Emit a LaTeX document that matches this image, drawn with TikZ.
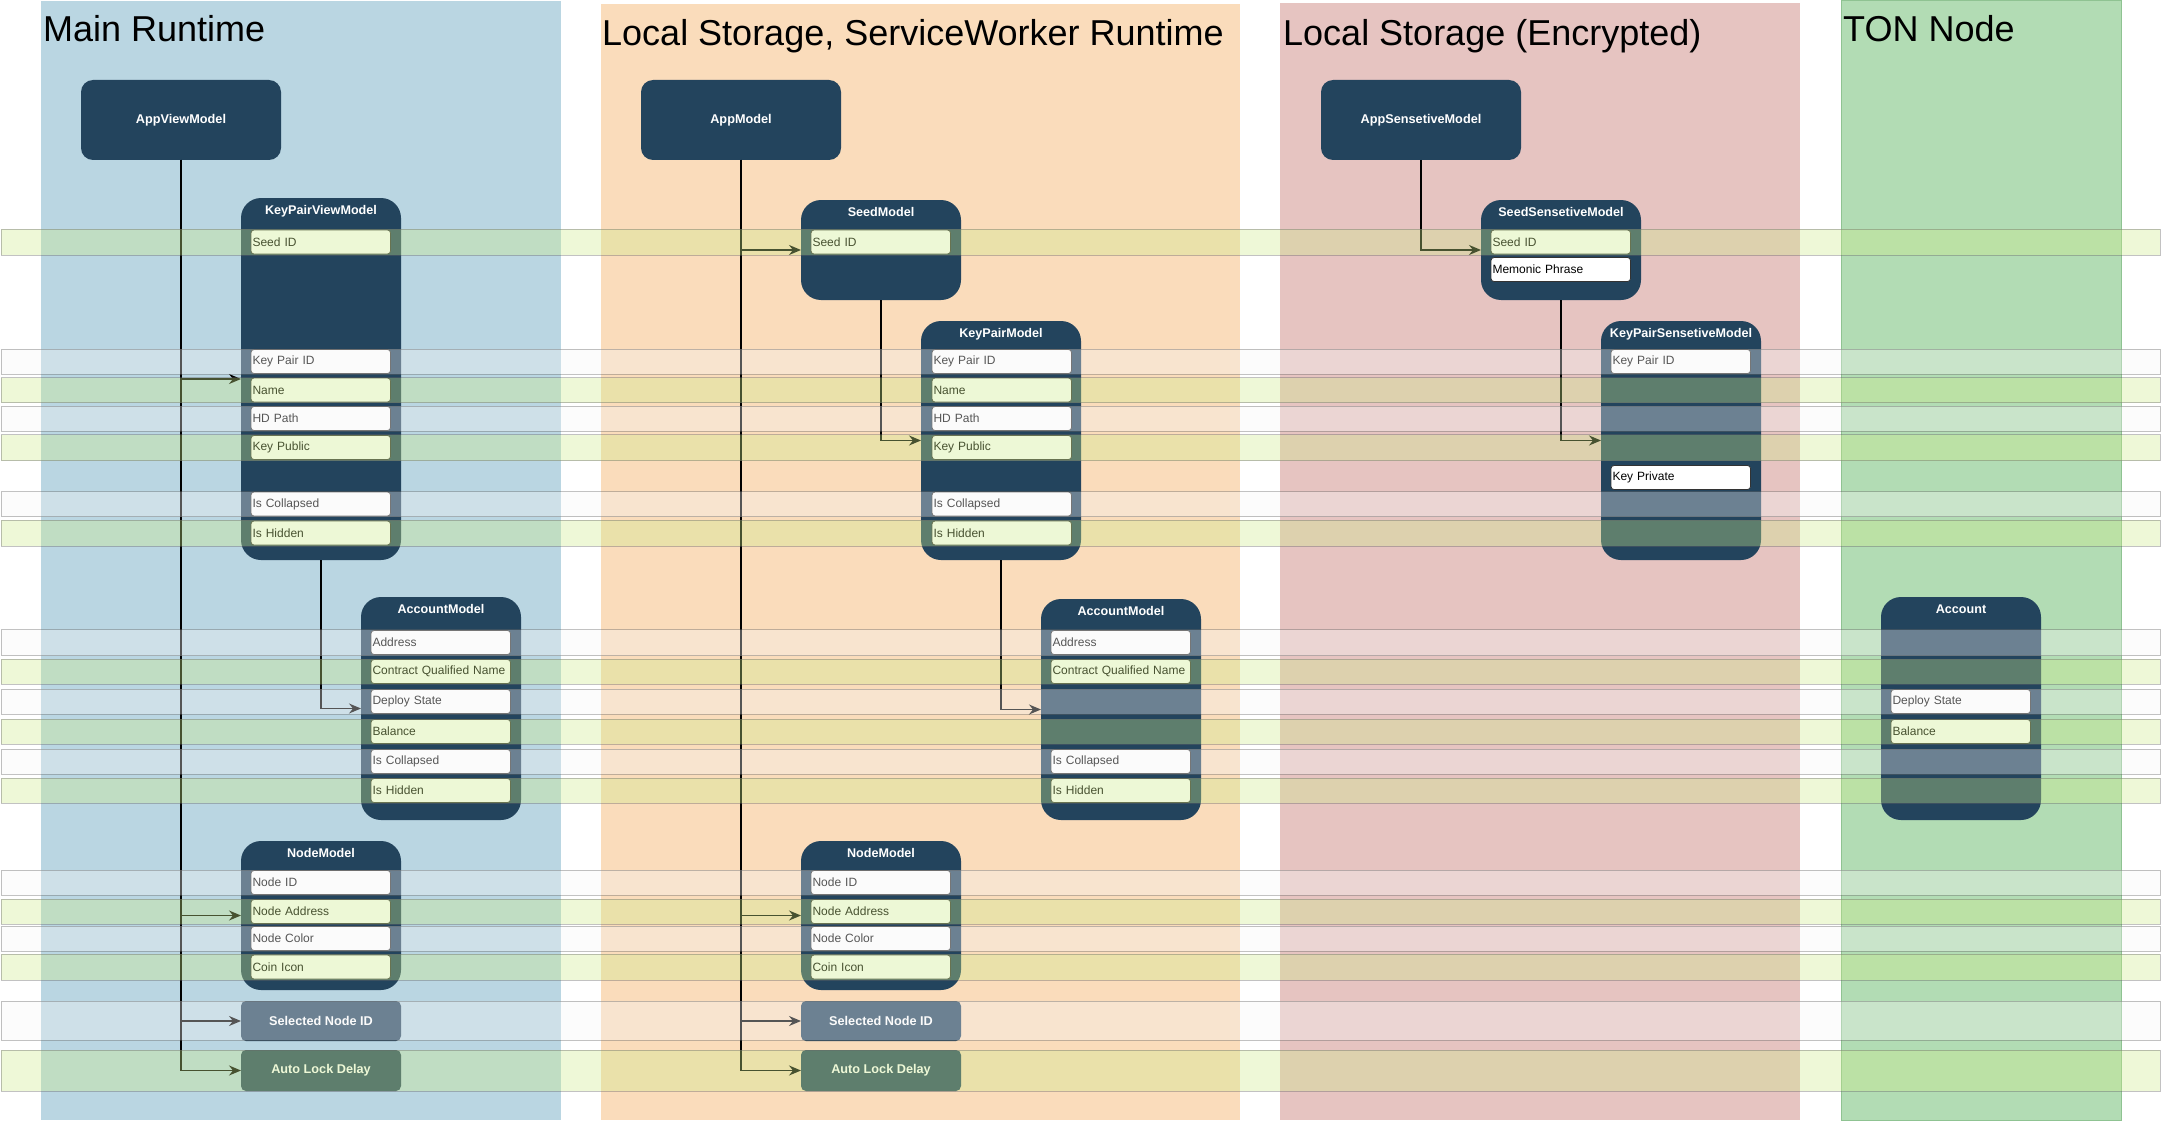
\documentclass[tikz,border=0pt]{standalone}
\usepackage{fontspec}
\setmainfont{Liberation Sans}
\usetikzlibrary{arrows.meta}

\definecolor{modelfill}{HTML}{23445D}
\definecolor{mainlane}{HTML}{BAD6E2}
\definecolor{locallane}{HTML}{FADCBB}
\definecolor{securelane}{HTML}{E6C4C1}
\definecolor{tonlane}{HTML}{B2DCB4}
\definecolor{tonedge}{HTML}{8FC392}
\definecolor{rowgreenfill}{HTML}{CDEB8B}
\definecolor{rowwhitefill}{HTML}{F5F5F5}
\definecolor{rowedge}{HTML}{666666}

\tikzset{
  lanetitle/.style={anchor=base west, inner sep=0pt, font=\fontsize{36}{43}\selectfont},
  appbox/.style={fill=modelfill, rounded corners=12pt, minimum width=200pt, minimum height=80pt,
    anchor=north west, inner sep=0pt, outer sep=0pt, text=white, font=\bfseries\fontsize{12.7}{15}\selectfont},
  modelbox/.style={fill=modelfill, rounded corners=20pt, minimum width=160pt,
    anchor=north west, inner sep=0pt, outer sep=0pt},
  boxtitle/.style={anchor=mid, yshift=-13.5pt, inner sep=0pt, text=white,
    font=\bfseries\fontsize{12.6}{15}\selectfont},
  valuebox/.style={fill=modelfill, rounded corners=5pt, minimum width=160pt,
    anchor=north west, inner sep=0pt, outer sep=0pt, text=white, font=\bfseries\fontsize{12.7}{15}\selectfont},
  field/.style={draw=black!80, line width=0.8pt, fill=white, rounded corners=3pt, anchor=west,
    minimum height=24pt, text width=136.5pt, inner xsep=1.5pt, inner ysep=0pt, outer sep=0pt,
    align=left, font=\fontsize{12}{14}\selectfont},
  link/.style={line width=1.5pt, -{Stealth[length=12pt,width=10pt,inset=4pt]}},
  rowgreen/.style={fill=rowgreenfill, fill opacity=0.35, draw=rowedge, draw opacity=0.4, line width=1pt},
  rowwhite/.style={fill=rowwhitefill, fill opacity=0.35, draw=rowedge, draw opacity=0.4, line width=1pt}
}

\begin{document}
\begin{tikzpicture}[x=1pt,y=-1pt]
  \useasboundingbox (0,0) rectangle (2161,1121);

  % lanes
  \fill[mainlane] (41,1) rectangle (561,1120);
  \fill[locallane] (601,4) rectangle (1240,1120);
  \fill[securelane] (1280,3) rectangle (1800,1120);
  \filldraw[fill=tonlane, draw=tonedge] (1841,0.5) rectangle (2121,1120);
  \node[lanetitle] (mainttl) at (43,42) {Main Runtime};
  \node[lanetitle] (localttl) at (602,46) {Local Storage, ServiceWorker Runtime};
  \node[lanetitle] (securettl) at (1283,46) {Local Storage (Encrypted)};
  \node[lanetitle] (tonttl) at (1843,42) {TON Node};

  % main runtime
  \node[appbox] (avm) at (81,80) {AppViewModel};
  \node[modelbox, minimum height=362pt, label={[boxtitle]north:KeyPairViewModel}] (kpvm) at (241,198) {};
  \node[modelbox, minimum height=223pt, label={[boxtitle]north:AccountModel}] (accvm) at (361,597) {};
  \node[modelbox, minimum height=149pt, label={[boxtitle]north:NodeModel}] (nodevm) at (241,841) {};
  \node[valuebox, minimum height=40pt] (selvm) at (241,1001) {Selected Node ID};
  \node[valuebox, minimum height=41pt] (lockvm) at (241,1050) {Auto Lock Delay};
  \foreach \yc/\txt [count=\i] in {242/Seed ID, 361.5/Key Pair ID, 390/Name, 418.5/HD Path,
      447.5/Key Public, 504/Is Collapsed, 533/Is Hidden}
    \node[field] (kpvmf\i) at (251,\yc) {\txt};
  \foreach \yc/\txt [count=\i] in {642.5/Address, 671.5/Contract Qualified Name, 701.5/Deploy State,
      731.5/Balance, 761.5/Is Collapsed, 790.5/Is Hidden}
    \node[field] (accvmf\i) at (371,\yc) {\txt};
  \foreach \yc/\txt [count=\i] in {882.5/Node ID, 911.5/Node Address, 938.5/Node Color, 967/Coin Icon}
    \node[field] (nodevmf\i) at (251,\yc) {\txt};

  % service worker runtime
  \node[appbox] (am) at (641,80) {AppModel};
  \node[modelbox, minimum height=100pt, label={[boxtitle]north:SeedModel}] (seedm) at (801,200) {};
  \node[modelbox, minimum height=239pt, label={[boxtitle]north:KeyPairModel}] (kpm) at (921,321) {};
  \node[modelbox, minimum height=221pt, label={[boxtitle]north:AccountModel}] (accm) at (1041,599) {};
  \node[modelbox, minimum height=149pt, label={[boxtitle]north:NodeModel}] (nodem) at (801,841) {};
  \node[valuebox, minimum height=40pt] (selm) at (801,1001) {Selected Node ID};
  \node[valuebox, minimum height=41pt] (lockm) at (801,1050) {Auto Lock Delay};
  \node[field] (seedmf1) at (811,242) {Seed ID};
  \foreach \yc/\txt [count=\i] in {361.5/Key Pair ID, 390/Name, 418.5/HD Path,
      447.5/Key Public, 504/Is Collapsed, 533/Is Hidden}
    \node[field] (kpmf\i) at (932,\yc) {\txt};
  \foreach \yc/\txt [count=\i] in {642.5/Address, 671.5/Contract Qualified Name,
      761.5/Is Collapsed, 790.5/Is Hidden}
    \node[field] (accmf\i) at (1051,\yc) {\txt};
  \foreach \yc/\txt [count=\i] in {882.5/Node ID, 911.5/Node Address, 938.5/Node Color, 967/Coin Icon}
    \node[field] (nodemf\i) at (811,\yc) {\txt};

  % encrypted storage
  \node[appbox] (asm) at (1321,80) {AppSensetiveModel};
  \node[modelbox, minimum height=100pt, label={[boxtitle]north:SeedSensetiveModel}] (seedsm) at (1481,200) {};
  \node[modelbox, minimum height=239pt, label={[boxtitle]north:KeyPairSensetiveModel}] (kpsm) at (1601,321) {};
  \node[field] (seedsmf1) at (1491,242) {Seed ID};
  \node[field] (seedsmf2) at (1491,269.5) {Memonic Phrase};
  \node[field] (kpsmf1) at (1611,361.5) {Key Pair ID};
  \node[field] (kpsmf2) at (1611,477.5) {Key Private};

  % ton node
  \node[modelbox, minimum height=223pt, label={[boxtitle]north:Account}] (acc) at (1881,597) {};
  \node[field] (accf1) at (1891,701.5) {Deploy State};
  \node[field] (accf2) at (1891,731.5) {Balance};

  % links
  \draw[link] (avm.south) |- (kpvm.west);
  \draw[link] (avm.south) |- (nodevm.west);
  \draw[link] (avm.south) |- (selvm.west);
  \draw[link] (avm.south) |- (lockvm.west);
  \draw[link] (kpvm.south) |- (accvm.west);
  \draw[link] (am.south) |- (seedm.west);
  \draw[link] (am.south) |- (nodem.west);
  \draw[link] (am.south) |- (selm.west);
  \draw[link] (am.south) |- (lockm.west);
  \draw[link] (seedm.south) |- (kpm.west);
  \draw[link] (kpm.south) |- (accm.west);
  \draw[link] (asm.south) |- (seedsm.west);
  \draw[link] (seedsm.south) |- (kpsm.west);

  % rows across all lanes
  \foreach \yc/\h/\kind in {242/26/rowgreen, 361.5/25/rowwhite, 390/25/rowgreen, 418.5/25/rowwhite,
      447.5/26/rowgreen, 504/25/rowwhite, 533/26/rowgreen, 642.5/26/rowwhite, 671.5/25/rowgreen,
      701.5/25/rowwhite, 731.5/25/rowgreen, 761.5/25/rowwhite, 790.5/25/rowgreen, 882.5/25/rowwhite,
      911.5/25/rowgreen, 938.5/25/rowwhite, 967/26/rowgreen, 1020.5/39/rowwhite, 1070.5/41/rowgreen}
    \draw[\kind] (1,{\yc-\h/2}) rectangle (2160,{\yc+\h/2});
\end{tikzpicture}
\end{document}
